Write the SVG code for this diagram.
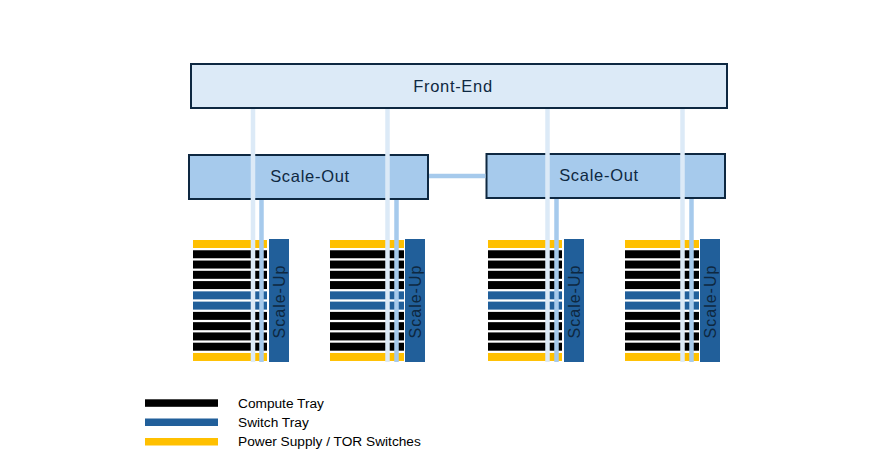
<svg xmlns="http://www.w3.org/2000/svg" width="878" height="466" viewBox="0 0 878 466">
  <style>
    .box { stroke: #0e2841; stroke-width: 2; }
    .fe { fill: #dceaf7; }
    .so { fill: #a6caec; }
    .lbl { font-family: "Liberation Sans", Arial, sans-serif; fill: #0e2841; text-anchor: middle; }
    .big { font-size: 16.5px; letter-spacing: 0.7px; }
    .su { fill: #215f9a; }
    .sutxt { font-family: "Liberation Sans", Arial, sans-serif; font-size: 16px; letter-spacing: 1px; fill: #0e2841; text-anchor: middle; }
    .ct { fill: #000000; }
    .st { fill: #215f9a; }
    .ps { fill: #ffc000; }
    .lfe { stroke: #dceaf7; stroke-width: 4.5; fill: none; }
    .lso { stroke: #a6caec; stroke-width: 4.5; fill: none; }
    .leg { font-family: "Liberation Sans", Arial, sans-serif; font-size: 13.7px; fill: #000000; }
  </style>
  <defs>
    <g id="bars">
      <rect class="ps" x="0" y="0" width="74" height="8"/>
      <rect class="ct" x="0" y="10.27" width="74" height="8"/>
      <rect class="ct" x="0" y="20.54" width="74" height="8"/>
      <rect class="ct" x="0" y="30.81" width="74" height="8"/>
      <rect class="ct" x="0" y="41.08" width="74" height="8"/>
      <rect class="st" x="0" y="51.35" width="74" height="8"/>
      <rect class="st" x="0" y="61.62" width="74" height="8"/>
      <rect class="ct" x="0" y="71.89" width="74" height="8"/>
      <rect class="ct" x="0" y="82.16" width="74" height="8"/>
      <rect class="ct" x="0" y="92.43" width="74" height="8"/>
      <rect class="ct" x="0" y="102.7" width="74" height="8"/>
      <rect class="ps" x="0" y="112.97" width="74" height="8"/>
    </g>
  </defs>
  <rect width="878" height="466" fill="#ffffff"/>

  <g id="front-end">
    <rect class="box fe" x="191" y="64" width="536" height="44"/>
    <text class="lbl big" x="453" y="92">Front-End</text>
  </g>

  <g id="scale-out-left">
    <rect class="box so" x="189" y="155" width="239" height="44"/>
    <text class="lbl big" x="310" y="182">Scale-Out</text>
  </g>

  <g id="scale-out-right">
    <rect class="box so" x="486.5" y="154" width="238.5" height="44"/>
    <text class="lbl big" x="599" y="181">Scale-Out</text>
  </g>

  <g id="rack-1">
    <use href="#bars" x="193" y="240"/>
    <rect class="su" x="269" y="239" width="20" height="123"/>
    <text class="sutxt" transform="translate(285 301.5) rotate(-90)">Scale-Up</text>
  </g>

  <g id="rack-2">
    <use href="#bars" x="330" y="240"/>
    <rect class="su" x="405" y="239" width="20" height="123"/>
    <text class="sutxt" transform="translate(421 301.5) rotate(-90)">Scale-Up</text>
  </g>

  <g id="rack-3">
    <use href="#bars" x="488" y="240"/>
    <rect class="su" x="564" y="239" width="20" height="123"/>
    <text class="sutxt" transform="translate(580 301.5) rotate(-90)">Scale-Up</text>
  </g>

  <g id="rack-4">
    <use href="#bars" x="625" y="240"/>
    <rect class="su" x="700" y="239" width="20" height="123"/>
    <text class="sutxt" transform="translate(716 301.5) rotate(-90)">Scale-Up</text>
  </g>

  <g id="connectors">
    <line class="lso" x1="429" y1="176" x2="485.5" y2="176"/>
    <line class="lfe" x1="253" y1="109" x2="253" y2="362"/>
    <line class="lfe" x1="387.5" y1="109" x2="387.5" y2="362"/>
    <line class="lfe" x1="547.5" y1="109" x2="547.5" y2="362"/>
    <line class="lfe" x1="682.5" y1="109" x2="682.5" y2="362"/>
    <line class="lso" x1="261.5" y1="200" x2="261.5" y2="362"/>
    <line class="lso" x1="396.5" y1="200" x2="396.5" y2="362"/>
    <line class="lso" x1="556.5" y1="199" x2="556.5" y2="362"/>
    <line class="lso" x1="691.5" y1="199" x2="691.5" y2="362"/>
  </g>

  <g id="legend">
    <rect class="ct" x="145" y="399.3" width="73" height="7.5"/>
    <text class="leg" x="238" y="407.5">Compute Tray</text>
    <rect class="st" x="145" y="418.5" width="73" height="7.5"/>
    <text class="leg" x="238" y="426.5">Switch Tray</text>
    <rect class="ps" x="145" y="438" width="73" height="7.5"/>
    <text class="leg" x="238" y="446">Power Supply / TOR Switches</text>
  </g>
</svg>
